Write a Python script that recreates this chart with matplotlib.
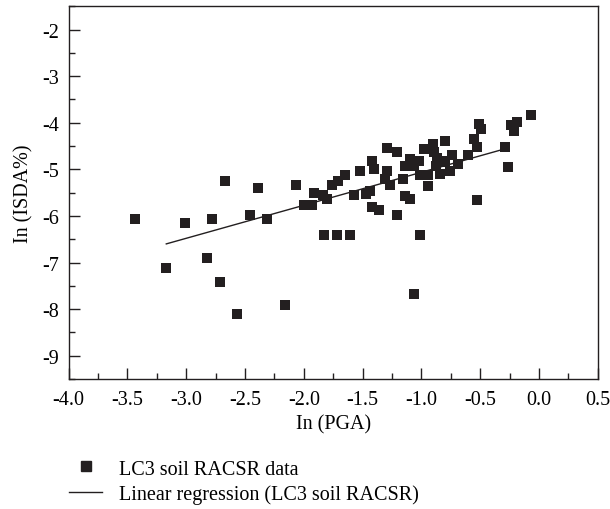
import matplotlib
matplotlib.use("Agg")
import matplotlib.pyplot as plt
from matplotlib.ticker import MultipleLocator
from matplotlib.lines import Line2D

# Data
ln_pga = [-3.44, -3.17, -3.01, -2.78, -2.82, -2.71, -2.67, -2.57, -2.46, -2.39,
          -2.31, -2.16, -2.07, -1.91, -2.00, -1.93, -1.83, -1.72, -1.61, -1.84,
          -1.80, -1.76, -1.71, -1.65, -1.57, -1.52, -1.47, -1.44, -1.42, -1.40,
          -1.42, -1.36, -1.31, -1.29, -1.29, -1.27, -1.21, -1.21, -1.16, -1.14,
          -1.10, -1.10, -1.14, -1.06, -1.01, -1.06, -1.01, -0.98, -0.94, -0.94,
          -0.90, -0.89, -0.88, -0.84, -0.80, -0.82, -0.76, -0.74, -0.69, -0.60,
          -0.53, -0.55, -0.53, -0.51, -0.49, -0.29, -0.26, -0.24, -0.19, -0.21,
          -0.07, -1.02, -0.87, -0.80]
ln_isda = [-6.06, -7.11, -6.15, -6.06, -6.90, -7.41, -5.24, -8.10, -5.99, -5.39,
           -6.06, -7.91, -5.34, -5.50, -5.76, -5.76, -6.40, -6.40, -6.40, -5.54,
           -5.64, -5.34, -5.24, -5.13, -5.54, -5.04, -5.52, -5.47, -4.81, -4.99,
           -5.81, -5.87, -5.20, -5.04, -4.54, -5.34, -4.63, -5.99, -5.20, -5.58,
           -5.63, -4.77, -4.93, -4.92, -6.40, -7.67, -5.13, -4.56, -5.13, -5.36,
           -4.45, -4.63, -4.92, -5.09, -4.40, -4.81, -5.04, -4.69, -4.88, -4.69,
           -5.65, -4.34, -4.52, -4.03, -4.13, -4.53, -4.94, -4.04, -3.98, -4.18,
           -3.84, -4.81, -4.75, -4.84]

# Regression line end points as drawn in the reference
reg_x = [-3.17, -0.29]
reg_y = [-6.60, -4.56]

x_ticks = [-4.0, -3.5, -3.0, -2.5, -2.0, -1.5, -1.0, -0.5, 0.0, 0.5]
y_ticks = [-9, -8, -7, -6, -5, -4, -3, -2]

plt.rcParams['font.family'] = ['Liberation Serif', 'DejaVu Serif']
plt.rcParams['font.size'] = 14.5

dark = '#231f20'
fig = plt.figure(figsize=(6.10, 5.10), dpi=100)
ax = fig.add_axes([0.1126, 0.2549, 0.980 - 0.1126, 0.9857 - 0.2549])

ax.scatter(ln_pga, ln_isda, marker='s', s=52, color=dark, linewidths=0, zorder=3)
ax.plot(reg_x, reg_y, color=dark, lw=1.0, zorder=2)

ax.set_xlim(-4.0, 0.5)
ax.set_ylim(-9.5, -1.5)
ax.set_xticks(x_ticks)
ax.set_xticklabels([f"{v:.1f}" for v in x_ticks])
ax.set_yticks(y_ticks)
ax.set_yticklabels([f"{v:d}" for v in y_ticks])
ax.xaxis.set_minor_locator(MultipleLocator(0.25))
ax.yaxis.set_minor_locator(MultipleLocator(0.5))
ax.tick_params(which='both', direction='in', top=False, right=False, color=dark, width=1.0)
ax.tick_params(axis='x', which='major', length=8, pad=8)
ax.tick_params(axis='y', which='major', length=8, pad=7)
ax.tick_params(which='minor', length=4)
for sp in ax.spines.values():
    sp.set_linewidth(1.0)
    sp.set_color(dark)

ax.set_xlabel('In (PGA)', labelpad=4)
ax.set_ylabel('In (ISDA%)', labelpad=6)

handles = [Line2D([], [], marker='s', ls='none', color=dark, markersize=7),
           Line2D([], [], color=dark, lw=1.0)]
fig.legend(handles, ['LC3 soil RACSR data', 'Linear regression (LC3 soil RACSR)'],
           loc='upper left', bbox_to_anchor=(0.10, 0.113), frameon=False,
           handlelength=1.65, handletextpad=0.85, labelspacing=0.3, borderaxespad=0)

fig.savefig('out.png', dpi=100)
